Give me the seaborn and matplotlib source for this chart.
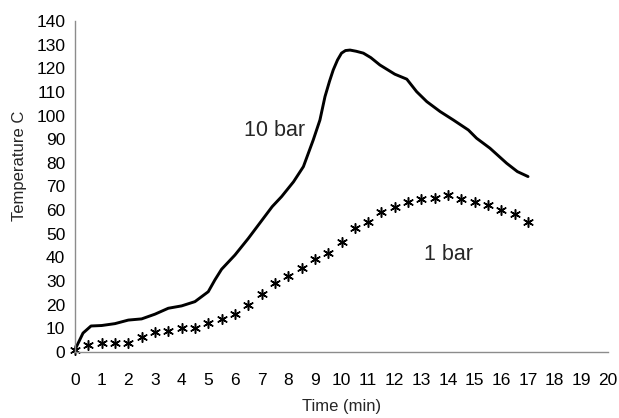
import matplotlib
matplotlib.use("Agg")
import matplotlib.pyplot as plt
import seaborn as sns
import pandas as pd

# 10 bar run: continuous temperature trace
time_10bar = [0, 0.3, 0.6, 1, 1.5, 2, 2.5, 3, 3.5, 4, 4.5, 5, 5.25, 5.5, 6, 6.5,
              7, 7.4, 7.75, 8.2, 8.57, 8.94, 9.19, 9.38, 9.55, 9.69, 9.85, 10.0,
              10.15, 10.32, 10.55, 10.82, 11.1, 11.44, 12.0, 12.45, 12.82, 13.2,
              13.7, 14.2, 14.76, 15.07, 15.57, 16.2, 16.6, 17.0]
temp_10bar = [1, 8, 11, 11.2, 12, 13.5, 14, 16, 18.5, 19.5, 21.3, 25.5, 30.5, 35,
              41, 48, 55.5, 61.5, 65.7, 72, 78.4, 89.7, 98.1, 108, 114.5, 119.3,
              123.5, 126.4, 127.5, 127.7, 127.2, 126.4, 124.5, 121.4, 117.5, 115.4,
              110.1, 105.9, 101.7, 98.1, 93.9, 90.4, 86.2, 79.8, 76.3, 74.2]

# 1 bar run: readings every half minute
time_1bar = [0, 0.5, 1, 1.5, 2, 2.5, 3, 3.5, 4, 4.5, 5, 5.5, 6, 6.5, 7, 7.5, 8,
             8.5, 9, 9.5, 10, 10.5, 11, 11.5, 12, 12.5, 13, 13.5, 14, 14.5, 15,
             15.5, 16, 16.5, 17]
temp_1bar = [1, 3, 4, 4, 4, 6.5, 8.3, 9, 10.3, 10.3, 12.1, 14, 16, 20, 24.4, 29.3,
             32.1, 35.4, 39.3, 42, 46.4, 52.3, 55.1, 59.1, 61.2, 63.3, 64.6, 65,
             66.4, 64.6, 63.3, 62.2, 60, 58.4, 55.1]

x_ticks = list(range(0, 21))
y_ticks = list(range(0, 141, 10))

sns.set_style("white")
plt.rcParams["font.family"] = ["Liberation Sans", "DejaVu Sans"]

df10 = pd.DataFrame({"t": time_10bar, "T": temp_10bar})
df1 = pd.DataFrame({"t": time_1bar, "T": temp_1bar})

fig = plt.figure(figsize=(6.19, 4.18), dpi=100)
ax = fig.add_axes([0.1212, 0.1579, 0.8610, 0.7919])

sns.lineplot(data=df10, x="t", y="T", ax=ax, color="black", linewidth=2.1,
             sort=False, clip_on=False)
sns.scatterplot(data=df1, x="t", y="T", ax=ax, marker=(6, 2, 0), s=48,
                color="black", linewidth=1.1, edgecolor="black", clip_on=False)

ax.set_xlim(0, 20)
ax.set_ylim(0, 140)
ax.set_xticks(x_ticks)
ax.set_yticks(y_ticks)
ax.tick_params(axis="both", direction="out", length=4, width=1, color="#8c8c8c",
               labelsize=12.5, labelcolor="black", pad=3)
ax.tick_params(axis="x", pad=11)

for side in ("top", "right"):
    ax.spines[side].set_visible(False)
for side in ("left", "bottom"):
    ax.spines[side].set_color("#8c8c8c")
    ax.spines[side].set_linewidth(1)

ax.set_xlabel("Time (min)", fontsize=12, labelpad=8)
ax.set_ylabel("Temperature C", fontsize=12)
ax.yaxis.set_label_coords(-0.090, 0.562)

ax.text(7.47, 93.5, "10 bar", fontsize=15.5, ha="center", va="center")
ax.text(14.0, 41.2, "1 bar", fontsize=15.5, ha="center", va="center")

fig.savefig("out.png", dpi=100)
